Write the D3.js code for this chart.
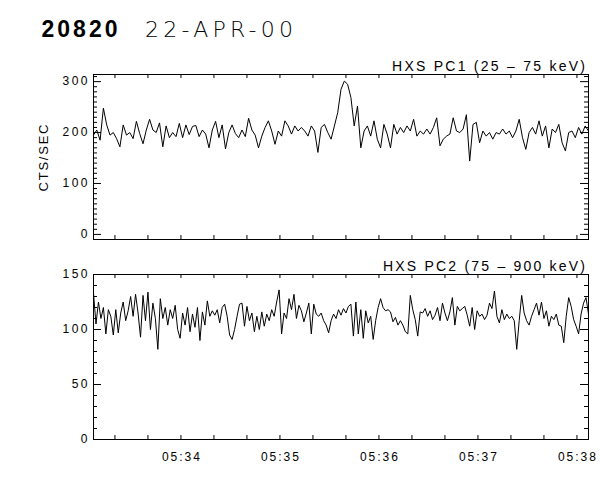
<!DOCTYPE html>
<html><head><meta charset="utf-8">
<script src="https://cdn.jsdelivr.net/npm/d3@7"></script>
<style>
body{margin:0;background:#fff}
svg{display:block}
text{font-family:"Liberation Sans",Arial,sans-serif;font-weight:400;fill:#000}
</style></head><body>
<svg id="c" width="600" height="480"></svg>
<script>
const eventId = "20820";
const dateLabel = "22-APR-00";
const yAxisTitle = "CTS/SEC";
const startTime = "2000-04-22T05:33:07Z";
const endTime = "2000-04-22T05:38:07Z";
const pc1StepSec = 2;
const pc2StepSec = 1.5;
const pc1Title = "HXS PC1 (25 – 75 keV)";
const pc2Title = "HXS PC2 (75 – 900 keV)";
const pc1Domain = [-10, 314];
const pc2Domain = [0, 150];
const pc1TickLabels = [0, 100, 200, 300];
const pc2TickLabels = [0, 50, 100, 150];
const timeTickLabels = ["05:34", "05:35", "05:36", "05:37", "05:38"];

const pc1Values = [
195,205,185,248,215,195,200,188,172,215,
195,200,188,222,198,178,205,226,205,200,
219,172,213,190,200,192,218,190,215,196,
212,214,192,205,197,170,205,222,190,215,
168,200,215,198,190,205,192,228,205,195,
170,193,210,223,203,177,203,193,223,213,
197,213,203,210,203,193,213,203,161,210,
216,200,187,213,239,285,301,295,269,213,
252,170,203,213,193,223,187,170,216,197,
170,216,197,210,200,213,203,226,193,203,
197,207,197,210,229,174,187,193,197,229,
203,200,207,235,144,216,220,180,203,193,
200,187,200,197,207,197,203,190,203,226,
190,167,200,210,197,223,193,213,170,207,
200,216,180,164,200,203,190,210,197,213,
203];

const pc2Values = [
133,105,125,110,120,96,118,112,95,118,
97,115,125,108,117,130,112,132,115,93,
131,108,134,100,124,110,82,128,110,120,
104,118,110,122,100,92,115,104,120,98,
114,102,120,90,116,104,126,112,117,113,
118,106,120,123,112,95,91,100,112,123,
124,103,121,108,115,98,112,100,116,103,
114,108,118,112,125,136,96,115,110,128,
118,132,110,122,117,107,115,124,96,123,
114,112,115,108,104,97,108,114,110,118,
113,119,115,121,123,94,125,96,118,92,
117,106,112,91,108,120,128,120,117,118,
116,107,111,104,108,104,98,96,131,118,
109,94,116,115,119,112,117,109,113,120,
108,124,115,108,116,129,104,121,117,119,
121,113,103,120,100,117,112,114,109,113,
124,119,135,112,106,118,109,114,110,112,
108,82,108,131,115,108,104,112,118,124,
113,125,110,117,103,112,109,114,104,103,
88,112,129,121,109,103,96,114,124,129,
114];

const svg = d3.select("#c");
const t0 = new Date(startTime), t1 = new Date(endTime);
const x = d3.scaleUtc().domain([t0, t1]).range([93, 588]);
const tickTimes = d3.utcSecond.every(20).range(t0, t1);

// Title
svg.append("text").attr("x", 41.5).attr("y", 37)
  .style("font-weight", 700)
  .attr("font-size", 23).attr("textLength", 76).attr("lengthAdjust", "spacing").text(eventId);
svg.append("text").attr("x", 145).attr("y", 37)
  .style("font-family", '"DejaVu Sans",sans-serif').style("font-weight", 200)
  .attr("font-size", 22).attr("textLength", 148).attr("lengthAdjust", "spacing").text(dateLabel);

// y axis title
svg.append("text").attr("transform", "translate(48,158) rotate(-90)")
  .attr("text-anchor", "middle").attr("font-size", 13)
  .attr("textLength", 67).attr("lengthAdjust", "spacing").text(yAxisTitle);

function panel(values, stepSec, domain, top, bottom, majorStep, labels, title, titleLen, showTimeLabels) {
  const y = d3.scaleLinear().domain(domain).range([bottom, top]);
  const g = svg.append("g");
  const minor = d3.range(Math.ceil(domain[0] / 10) * 10, domain[1] + 0.001, 10)
    .filter(v => v % majorStep !== 0 && v > domain[0] && v < domain[1]);
  const major = labels;

  const la = g.append("g").attr("transform", "translate(93,0)")
    .call(d3.axisLeft(y).tickValues(minor).tickSize(-4).tickFormat(""));
  la.select(".domain").remove();
  const lm = g.append("g").attr("transform", "translate(93,0)")
    .call(d3.axisLeft(y).tickValues(major).tickSize(-8).tickPadding(3).tickFormat(d3.format("d")));
  lm.select(".domain").remove();
  lm.selectAll("text").attr("font-size", 12).style("font-family", '"Liberation Sans",Arial,sans-serif')
    .attr("letter-spacing", "2.5px").attr("fill", "#000");

  const ra = g.append("g").attr("transform", "translate(588,0)")
    .call(d3.axisRight(y).tickValues(minor).tickSize(-4).tickFormat(""));
  ra.select(".domain").remove();
  const rm = g.append("g").attr("transform", "translate(588,0)")
    .call(d3.axisRight(y).tickValues(major).tickSize(-8).tickFormat(""));
  rm.select(".domain").remove();

  const ta = g.append("g").attr("transform", `translate(0,${top})`)
    .call(d3.axisTop(x).tickValues(tickTimes).tickSize(-4).tickFormat(""));
  ta.select(".domain").remove();
  const ba = g.append("g").attr("transform", `translate(0,${bottom})`)
    .call(d3.axisBottom(x).tickValues(tickTimes).tickSize(-4).tickFormat(""));
  ba.select(".domain").remove();

  g.selectAll(".tick line").attr("stroke", "#000");

  g.append("rect").attr("x", 93.5).attr("y", top + 0.5)
    .attr("width", 495).attr("height", bottom - top)
    .attr("fill", "none").attr("stroke", "#000").attr("stroke-width", 1);

  const line = d3.line()
    .x((d, i) => x(new Date(t0.getTime() + i * stepSec * 1000)) + 0.5)
    .y(d => y(d) + 0.5);
  g.append("path").datum(values).attr("d", line)
    .attr("fill", "none").attr("stroke", "#000").attr("stroke-width", 1);

  g.append("text").attr("x", 585).attr("y", top - 3).attr("text-anchor", "end")
    .attr("font-size", 14).attr("textLength", titleLen).attr("lengthAdjust", "spacing").text(title);

  if (showTimeLabels) {
    timeTickLabels.forEach(lbl => {
      const d = new Date(`2000-04-22T${lbl}:00Z`);
      g.append("text").attr("x", x(d) + 1.5).attr("y", bottom + 22)
        .attr("text-anchor", "middle").attr("font-size", 12)
        .attr("letter-spacing", "2px").text(lbl);
    });
  }
}

panel(pc1Values, pc1StepSec, pc1Domain, 74, 239, 100, pc1TickLabels, pc1Title, 193, false);
panel(pc2Values, pc2StepSec, pc2Domain, 274, 439, 50, pc2TickLabels, pc2Title, 202, true);
</script>
</body></html>
